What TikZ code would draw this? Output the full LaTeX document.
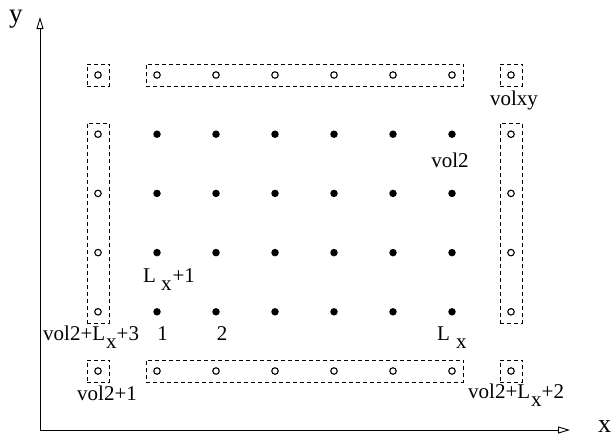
\documentclass[tikz,border=0pt]{standalone}
\usepackage{fontspec}
\setmainfont{Liberation Serif}
\usetikzlibrary{arrows.meta,fit}
\newcommand{\sbx}{\raisebox{-8.5pt}{x}}
\begin{document}
\begin{tikzpicture}[x=1pt,y=-1pt,
  dot/.style={circle,fill=black,inner sep=0pt,minimum size=7.5pt},
  ghost/.style={circle,draw=black,line width=1.1pt,fill=white,inner sep=0pt,minimum size=6.5pt},
  grp/.style={draw=black,dashed,dash pattern=on 4pt off 3pt,line width=0.8pt,inner sep=7.3pt},
  lbl/.style={inner sep=0pt,font=\fontsize{21}{25}\selectfont},
  axlbl/.style={inner sep=0pt,font=\fontsize{26}{30}\selectfont},
  axis/.style={line width=0.9pt,-{Triangle[open,length=12pt,width=7pt,line width=0.9pt]}}]
\useasboundingbox (0,0) rectangle (615,437);
% filled dots
\foreach \i in {1,...,6}{
  \foreach \j in {1,...,4}{
    \node[dot] (d-\i-\j) at ({98+59*\i},{75+59.2*\j}) {};
  }
}
% ghost cells, top and bottom rows
\foreach \i in {0,...,7}{
  \node[ghost] (g-\i-0) at ({98+59*\i},75) {};
  \node[ghost] (g-\i-5) at ({98+59*\i},371) {};
}
% ghost cells, left and right columns
\foreach \j in {1,...,4}{
  \node[ghost] (g-0-\j) at (98,{75+59.2*\j}) {};
  \node[ghost] (g-7-\j) at (511,{75+59.2*\j}) {};
}
% dashed groups
\node[grp,fit=(g-0-0)] (bTL) {};
\node[grp,fit=(g-1-0)(g-6-0)] (bT) {};
\node[grp,fit=(g-7-0)] (bTR) {};
\node[grp,fit=(g-0-1)(g-0-4)] (bL) {};
\node[grp,fit=(g-7-1)(g-7-4)] (bR) {};
\node[grp,fit=(g-0-5)] (bBL) {};
\node[grp,fit=(g-1-5)(g-6-5)] (bB) {};
\node[grp,fit=(g-7-5)] (bBR) {};
% axes
\coordinate (o) at (40,430);
\coordinate (ytip) at (40,17);
\coordinate (xtip) at (570,430);
\draw[axis] (o) -- (ytip);
\draw[axis] (o) -- (xtip);
\node[axlbl,anchor=base west,font=\fontsize{27}{31}\selectfont] (ly) at (9,22) {y};
\node[axlbl,anchor=base west] (lx) at (598,432) {x};
% labels
\node[lbl,anchor=base] (l-vol2) at (450,167) {vol2};
\node[lbl,anchor=base] (l-volxy) at (514,105) {volxy};
\node[lbl,anchor=base west] (l-lx1) at (143,282) {L\kern5pt\sbx\kern1pt+1};
\node[lbl,anchor=base west] (l-v3) at (43,340) {vol2+L\kern1pt\sbx+3};
\node[lbl,anchor=base] (l-1) at (162.5,340) {1};
\node[lbl,anchor=base] (l-2) at (222,340) {2};
\node[lbl,anchor=base west] (l-lx) at (437,340) {L\kern6pt\sbx};
\node[lbl,anchor=base] (l-v1) at (107,400) {vol2+1};
\node[lbl,anchor=base west] (l-v2) at (468,398) {vol2+L\kern1pt\sbx+2};
\end{tikzpicture}
\end{document}
